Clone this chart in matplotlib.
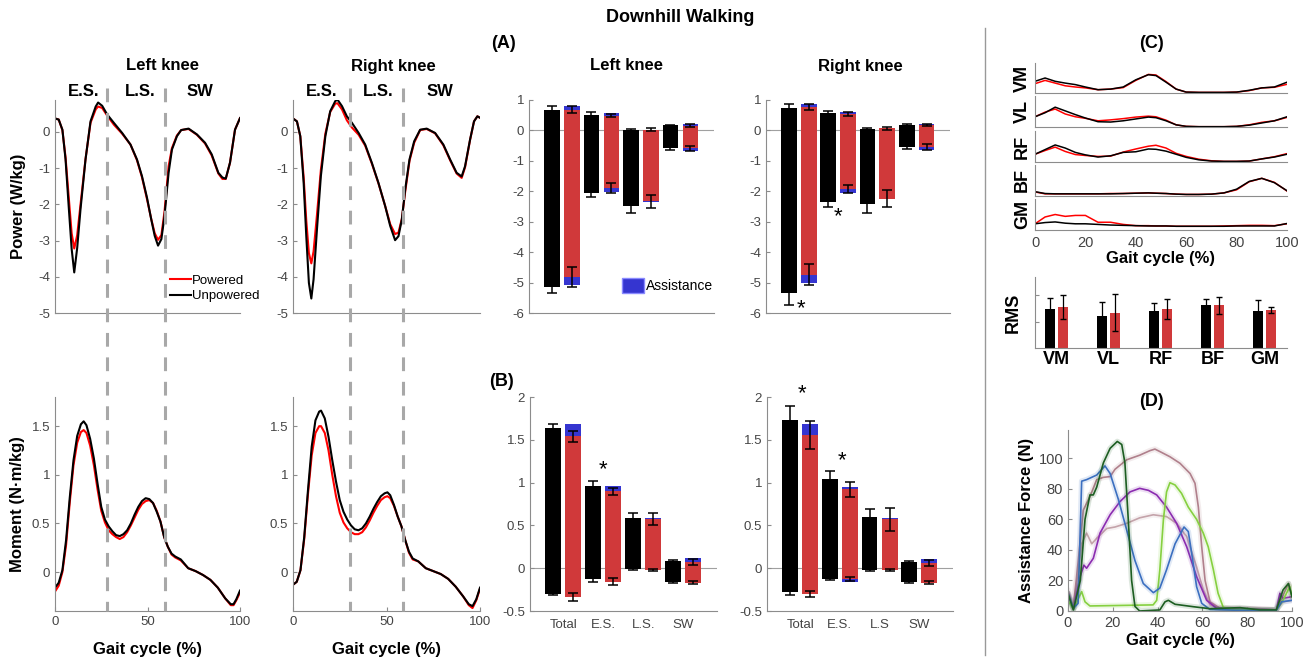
import matplotlib
matplotlib.use('Agg')
import matplotlib.pyplot as plt
import matplotlib.transforms as mtransforms
from matplotlib.patches import Patch
from matplotlib.lines import Line2D
from matplotlib.ticker import FormatStrFormatter
import numpy as np

plt.rcParams['font.family'] = ['Liberation Sans', 'DejaVu Sans']
plt.rcParams['axes.unicode_minus'] = False

W, H = 1310, 660
GRAY = '#8c8c8c'
TXT = '#444444'
RED = '#d0393a'
BLUE = '#3535d0'

# ---------------- knee power (W/kg) ----------------
pL_x = [0, 2, 4, 5.7, 7.5, 9, 10.4, 12, 13.8, 16.5, 19.2, 22, 23.3, 25.5, 28.2, 31.8, 36.3, 40.8, 44.3, 47,
        49.7, 52, 53.9, 55.7, 57.5, 59.2, 61.4, 63.2, 65.9, 68.2, 72.2, 76.7, 81.1, 84.7, 88.3, 90.5, 92.3,
        94.6, 97.3, 100]
pL_unpow = [0.37, 0.34, 0.06, -0.76, -2.13, -3.23, -3.88, -3.2, -2.13, -0.76, 0.29, 0.7, 0.81, 0.72, 0.48,
            0.25, -0.03, -0.35, -0.76, -1.22, -1.81, -2.41, -2.87, -3.14, -2.96, -2.32, -1.13, -0.49, -0.12,
            0.05, 0.09, -0.07, -0.3, -0.62, -1.13, -1.26, -1.29, -0.85, 0.06, 0.38]
pL_pow = [0.37, 0.34, 0.05, -0.7, -1.85, -2.8, -3.22, -2.85, -2.0, -0.75, 0.25, 0.62, 0.7, 0.66, 0.45, 0.2,
          -0.05, -0.35, -0.78, -1.25, -1.85, -2.4, -2.8, -2.98, -2.85, -2.2, -0.95, -0.45, -0.1, 0.05, 0.08,
          -0.08, -0.32, -0.65, -1.15, -1.3, -1.3, -0.85, 0.06, 0.38]

pR_x = [0, 2.1, 3.9, 5.7, 7.1, 8.5, 9.8, 11, 12.8, 14.9, 17.3, 19.9, 22.6, 23.8, 26.2, 28.8, 31.5, 35.1, 38.6,
        42.2, 45.7, 49.3, 52, 54.6, 56.4, 58.2, 60, 62.3, 64.8, 68, 71.5, 76, 80.4, 84, 87.5, 90.2, 92, 94.7,
        96.8, 98.6, 100]
pR_unpow = [0.37, 0.29, -0.12, -1.41, -2.88, -4.17, -4.6, -4.07, -2.7, -1.22, -0.12, 0.57, 0.85, 0.89, 0.71,
            0.43, 0.25, -0.03, -0.35, -0.86, -1.41, -2.05, -2.6, -2.99, -2.88, -2.42, -1.59, -0.76, -0.26,
            0.06, 0.09, -0.03, -0.35, -0.76, -1.13, -1.23, -0.95, -0.21, 0.29, 0.43, 0.39]
pR_pow = [0.37, 0.29, -0.12, -1.25, -2.45, -3.35, -3.63, -3.3, -2.3, -1.05, -0.05, 0.55, 0.78, 0.79, 0.62,
          0.32, 0.12, -0.08, -0.38, -0.88, -1.42, -2.05, -2.55, -2.82, -2.78, -2.4, -1.65, -0.8, -0.3, 0.05,
          0.08, -0.04, -0.37, -0.78, -1.15, -1.27, -0.98, -0.22, 0.29, 0.43, 0.39]

# ---------------- knee moment (N.m/kg) ----------------
mL_x = [0, 2, 4, 6, 8, 10, 12, 14, 15.5, 17, 19, 21, 23, 25, 27, 29, 31, 33, 35, 37, 39, 41, 43, 45, 47, 49,
        51, 53, 55, 57, 59, 61, 63, 65, 68, 72, 76, 80, 84, 88, 92, 95, 96.5, 98, 100]
mL_unpow = [-0.16, -0.11, 0.02, 0.33, 0.77, 1.15, 1.4, 1.52, 1.55, 1.51, 1.37, 1.17, 0.91, 0.67, 0.54, 0.47,
            0.42, 0.38, 0.37, 0.39, 0.43, 0.5, 0.59, 0.67, 0.73, 0.76, 0.75, 0.71, 0.62, 0.52, 0.36, 0.26,
            0.19, 0.16, 0.13, 0.04, 0.01, -0.03, -0.08, -0.16, -0.27, -0.33, -0.33, -0.28, -0.19]
mL_pow = [-0.2, -0.14, 0.0, 0.28, 0.72, 1.1, 1.33, 1.44, 1.46, 1.43, 1.3, 1.1, 0.85, 0.63, 0.51, 0.43, 0.39,
          0.36, 0.34, 0.36, 0.41, 0.48, 0.56, 0.64, 0.7, 0.73, 0.74, 0.71, 0.63, 0.52, 0.36, 0.26, 0.18,
          0.15, 0.12, 0.04, 0.01, -0.03, -0.08, -0.16, -0.27, -0.34, -0.34, -0.29, -0.21]

mR_x = [0, 2, 4, 6, 8, 10, 12, 14, 15, 17, 19, 21, 23, 25, 27, 29, 31, 33, 35, 37, 39, 41, 43, 45, 47, 49,
        50.5, 52, 54, 56, 58, 60, 62, 64, 67, 71, 75, 79, 83, 87, 91, 94, 96, 98, 100]
mR_unpow = [-0.13, -0.1, 0.02, 0.36, 0.84, 1.29, 1.56, 1.65, 1.66, 1.58, 1.39, 1.15, 0.93, 0.74, 0.62, 0.54,
            0.48, 0.44, 0.43, 0.45, 0.5, 0.57, 0.65, 0.72, 0.78, 0.81, 0.82, 0.79, 0.69, 0.57, 0.47, 0.33,
            0.21, 0.14, 0.11, 0.04, 0.01, -0.02, -0.07, -0.15, -0.25, -0.33, -0.35, -0.28, -0.16]
mR_pow = [-0.13, -0.1, 0.02, 0.34, 0.8, 1.2, 1.43, 1.5, 1.5, 1.43, 1.25, 1.0, 0.78, 0.61, 0.51, 0.45, 0.41,
          0.39, 0.39, 0.41, 0.46, 0.53, 0.61, 0.68, 0.74, 0.77, 0.78, 0.76, 0.68, 0.57, 0.47, 0.33, 0.2,
          0.13, 0.11, 0.04, 0.01, -0.02, -0.07, -0.15, -0.25, -0.34, -0.37, -0.29, -0.17]

# ---------------- work bars (A) power, (B) moment ----------------
phases = ['Total', 'E.S.', 'L.S.', 'SW']
phases_R = ['Total', 'E.S.', 'L.S', 'SW']

A_L = dict(bpos=[0.68, 0.52, 0.02, 0.17], bpos_e=[0.12, 0.07, 0.03, 0.02],
           bneg=[-5.14, -2.05, -2.47, -0.58], bneg_e=[0.21, 0.15, 0.24, 0.06],
           rpos=[0.68, 0.49, 0.03, 0.16], apos=[0.11, 0.07, 0.0, 0.04], rpos_e=[0.11, 0.04, 0.05, 0.035],
           rneg=[-4.81, -1.9, -2.33, -0.59], aneg=[-0.27, -0.11, -0.02, -0.1], rneg_e=[0.33, 0.16, 0.22, 0.09])
A_R = dict(bpos=[0.74, 0.58, 0.05, 0.18], bpos_e=[0.12, 0.06, 0.02, 0.02],
           bneg=[-5.35, -2.36, -2.42, -0.53], bneg_e=[0.38, 0.14, 0.3, 0.07],
           rpos=[0.76, 0.54, 0.07, 0.17], apos=[0.1, 0.05, 0.0, 0.05], rpos_e=[0.1, 0.06, 0.04, 0.04],
           rneg=[-4.74, -1.93, -2.24, -0.55], aneg=[-0.26, -0.11, -0.02, -0.09], rneg_e=[0.34, 0.13, 0.27, 0.09])
B_L = dict(bpos=[1.64, 0.96, 0.59, 0.08], bpos_e=[0.04, 0.06, 0.05, 0.02],
           bneg=[-0.30, -0.13, -0.01, -0.16], bneg_e=[0.01, 0.03, 0.01, 0.01],
           rpos=[1.54, 0.90, 0.57, 0.07], apos=[0.14, 0.06, 0.02, 0.045], rpos_e=[0.06, 0.04, 0.07, 0.035],
           rneg=[-0.34, -0.16, -0.02, -0.17], aneg=[0, 0, 0, 0], rneg_e=[0.045, 0.04, 0.01, 0.02])
B_R = dict(bpos=[1.73, 1.04, 0.60, 0.07], bpos_e=[0.17, 0.1, 0.09, 0.015],
           bneg=[-0.28, -0.125, -0.02, -0.16], bneg_e=[0.03, 0.01, 0.01, 0.01],
           rpos=[1.56, 0.92, 0.57, 0.065], apos=[0.13, 0.03, 0.02, 0.045], rpos_e=[0.165, 0.085, 0.135, 0.035],
           rneg=[-0.30, -0.13, -0.02, -0.17], aneg=[0, -0.03, 0, 0], rneg_e=[0.035, 0.025, 0.01, 0.015])

# significance marks: (group, y)
A_R_stars = [(1.05, -5.85), (2, -2.85)]
B_L_stars = [(2, 1.15)]
B_R_stars = [(1.05, 2.04), (2.05, 1.26)]

# ---------------- EMG envelopes (C), normalised ----------------
emg_x = [0, 4, 8, 12, 16, 20, 25, 30, 35, 40, 45, 48, 52, 56, 60, 65, 70, 75, 80, 85, 90, 95, 100]
muscles = ['VM', 'VL', 'RF', 'BF', 'GM']
emg_unpow = {
    'VM': [0.39, 0.5, 0.39, 0.33, 0.28, 0.2, 0.11, 0.13, 0.2, 0.44, 0.61, 0.58, 0.36, 0.13, 0.03, 0.02, 0.02,
           0.02, 0.03, 0.09, 0.17, 0.2, 0.36],
    'VL': [0.33, 0.46, 0.64, 0.52, 0.4, 0.29, 0.17, 0.16, 0.2, 0.26, 0.32, 0.3, 0.2, 0.07, 0.02, 0.01, 0.01,
           0.01, 0.02, 0.06, 0.13, 0.2, 0.33],
    'RF': [0.25, 0.4, 0.55, 0.45, 0.31, 0.23, 0.16, 0.2, 0.31, 0.33, 0.42, 0.41, 0.35, 0.25, 0.15, 0.07, 0.03,
           0.02, 0.02, 0.03, 0.1, 0.16, 0.25],
    'BF': [0.14, 0.08, 0.07, 0.07, 0.07, 0.07, 0.07, 0.07, 0.08, 0.09, 0.1, 0.09, 0.08, 0.06, 0.05, 0.05, 0.06,
           0.1, 0.22, 0.47, 0.57, 0.43, 0.17],
    'GM': [0.2, 0.24, 0.26, 0.22, 0.2, 0.2, 0.18, 0.16, 0.15, 0.14, 0.13, 0.13, 0.13, 0.12, 0.12, 0.12, 0.12,
           0.12, 0.13, 0.13, 0.13, 0.13, 0.21],
}
emg_pow = {
    'VM': [0.31, 0.42, 0.33, 0.24, 0.2, 0.17, 0.11, 0.13, 0.18, 0.42, 0.62, 0.6, 0.38, 0.13, 0.03, 0.02, 0.02,
           0.02, 0.03, 0.08, 0.17, 0.19, 0.29],
    'VL': [0.33, 0.48, 0.58, 0.42, 0.33, 0.28, 0.2, 0.23, 0.27, 0.32, 0.35, 0.33, 0.22, 0.07, 0.02, 0.01, 0.01,
           0.01, 0.02, 0.07, 0.15, 0.2, 0.31],
    'RF': [0.25, 0.37, 0.48, 0.34, 0.24, 0.21, 0.18, 0.19, 0.32, 0.42, 0.51, 0.54, 0.45, 0.28, 0.18, 0.09, 0.04,
           0.02, 0.02, 0.03, 0.1, 0.17, 0.27],
    'BF': [0.13, 0.07, 0.07, 0.07, 0.07, 0.07, 0.07, 0.08, 0.08, 0.09, 0.1, 0.09, 0.08, 0.06, 0.05, 0.05, 0.06,
           0.1, 0.2, 0.46, 0.57, 0.44, 0.16],
    'GM': [0.2, 0.42, 0.5, 0.44, 0.47, 0.47, 0.25, 0.25, 0.18, 0.14, 0.14, 0.13, 0.13, 0.12, 0.12, 0.12, 0.12,
           0.13, 0.14, 0.15, 0.15, 0.14, 0.2],
}
rms_unpow = [1.49, 1.22, 1.41, 1.64, 1.40]
rms_unpow_e = [0.43, 0.52, 0.29, 0.23, 0.43]
rms_pow = [1.56, 1.35, 1.47, 1.62, 1.45]
rms_pow_e = [0.47, 0.72, 0.38, 0.31, 0.10]

# ---------------- assistance force (D), one curve per subject ----------------
f1_x = [0, 2.4, 4.5, 6.1, 8.3, 12.8, 16.5, 18.8, 22.5, 26.2, 29.9, 33.6, 38.1, 41, 44, 47.8, 51.8, 53.7,
        55.2, 57.4, 59.7, 63.4, 75, 93, 95.4, 100]
f1_y = [11.6, 1.7, 5, 85, 86, 89, 95, 90, 73, 53, 33, 18, 12, 15, 27, 44, 55, 52, 38, 16, 5, 1, 0.5, 0.5, 6, 7]
f2_x = [0, 2.4, 5.5, 7.6, 9.8, 11.3, 12.8, 15.8, 18.8, 22, 24, 25.4, 26.9, 28.4, 29.9, 32, 41, 43.3, 44.8,
        47.8, 56, 63.4, 76.8, 85.7, 93, 96, 98.4, 100]
f2_y = [11.6, 0.7, 20, 60, 76, 76, 81, 97, 106.5, 111, 109, 97, 60, 20, 3, 0, 0.7, 6, 7, 4.4, 2.8, 1.5, 2.2,
        0.7, 0.7, 13.8, 18, 9.4]
f3_x = [0, 2.4, 6.1, 7.6, 9.8, 26, 38, 39.6, 41, 42.6, 44, 45.5, 47.8, 50.7, 53.7, 57.4, 60.4, 62.6, 64.9,
        67, 69.3, 73.8, 93, 96, 99, 100]
f3_y = [7, 1, 12.7, 6, 3.3, 3.7, 4, 7, 27, 60, 78, 84, 82.5, 77, 68, 60, 51, 42, 27, 11.6, 2.4, 1, 0.7, 7,
        16, 9.4]
f4_x = [0, 2.4, 5.4, 7.1, 8.3, 11.3, 14.3, 18.8, 23.2, 27.7, 32, 35.9, 39.6, 44, 48.5, 53, 57.4, 61.9, 66.4,
        93, 94.6, 96, 100]
f4_y = [10.5, 1.7, 22.5, 30, 28, 34.5, 51, 63, 71.6, 78, 80.3, 79, 76, 68, 57.4, 42, 22.5, 7, 1.7, 0.7,
        11.6, 8.3, 9.4]
f5_x = [0, 2.4, 4.6, 6.8, 9.8, 12.8, 15.8, 18.8, 21, 26.2, 32, 36.6, 38.8, 41, 45.5, 50, 54.5, 56.7, 58.2,
        59.7, 61.2, 63.4, 67.9, 85.7, 93, 96.4, 98.5, 100]
f5_y = [13.8, 2.8, 33, 66, 75, 86, 87.5, 88, 92.8, 99, 102, 105, 106, 104.4, 101, 96.7, 90, 83.6, 68, 42, 20,
        6, 1.7, 1.5, 0.7, 11.6, 18, 9.4]
f6_x = [0, 2.4, 6.1, 8.3, 10.6, 12.8, 17.3, 21, 26.2, 32, 38.1, 44, 48.5, 53, 57.4, 60.4, 63.4, 69.3, 93,
        96, 100]
f6_y = [11.6, 1.7, 44, 51, 44, 47.6, 54, 55, 57.4, 61, 63, 61.8, 57.4, 48.7, 29, 13.8, 4, 1.5, 1, 6, 7]
force_curves = [(f6_x, f6_y, '#c4a3aa'), (f5_x, f5_y, '#b0808c'), (f4_x, f4_y, '#8b2cb0'),
                (f3_x, f3_y, '#86d040'), (f1_x, f1_y, '#3b6fc0'), (f2_x, f2_y, '#1d5e22')]

# ====================================================================
fig = plt.figure(figsize=(W / 100, H / 100), dpi=100)


def add_ax(l, t, r, b):
    return fig.add_axes([l / W, 1 - b / H, (r - l) / W, (b - t) / H])


def style(ax, size=9.5):
    for s in ['top', 'right']:
        ax.spines[s].set_visible(False)
    for s in ['left', 'bottom']:
        ax.spines[s].set_color(GRAY)
    ax.tick_params(direction='in', length=3, colors=GRAY, labelcolor=TXT, labelsize=size)


def ftext(x, y, s, **kw):
    fig.text(x / W, 1 - y / H, s, ha='center', va='center', **kw)


def draw_bars(ax, d, stars):
    x = np.arange(1, 5)
    xb, xr = x - 0.253, x + 0.253
    w = 0.4
    ax.axhline(0, color='#a0a0a0', lw=0.8, zorder=0)
    ax.bar(xb, d['bpos'], w, color='k', zorder=2)
    ax.bar(xb, d['bneg'], w, color='k', zorder=2)
    ax.bar(xr, d['rpos'], w, color=RED, zorder=2)
    ax.bar(xr, d['apos'], w, bottom=d['rpos'], color=BLUE, zorder=2)
    ax.bar(xr, d['rneg'], w, color=RED, zorder=2)
    ax.bar(xr, d['aneg'], w, bottom=d['rneg'], color=BLUE, zorder=2)
    kw = dict(fmt='none', ecolor='k', elinewidth=1.1, capsize=3.5, capthick=1.1, zorder=3)
    ax.errorbar(xb, d['bpos'], yerr=d['bpos_e'], **kw)
    ax.errorbar(xb, d['bneg'], yerr=d['bneg_e'], **kw)
    ax.errorbar(xr, d['rpos'], yerr=d['rpos_e'], **kw)
    ax.errorbar(xr, d['rneg'], yerr=d['rneg_e'], **kw)
    for g, y in stars:
        ax.text(g, y, '*', ha='center', va='center', fontsize=16, clip_on=False)
    ax.set_xlim(0.165, 4.85)
    ax.set_xticks(x)
    ax.tick_params(axis='x', length=0)
    ax.yaxis.set_major_formatter(FormatStrFormatter('%g'))


# ---- power / moment curves ----
axPL = add_ax(55, 100, 240, 313)
axPR = add_ax(293, 100, 480, 313)
axML = add_ax(55, 397, 240, 611)
axMR = add_ax(293, 397, 480, 611)
for ax, x, up, pw in [(axPL, pL_x, pL_unpow, pL_pow), (axPR, pR_x, pR_unpow, pR_pow),
                      (axML, mL_x, mL_unpow, mL_pow), (axMR, mR_x, mR_unpow, mR_pow)]:
    style(ax)
    ax.plot(x, pw, color='#ff0000', lw=1.5, label='Powered')
    ax.plot(x, up, color='k', lw=1.5, label='Unpowered')
    ax.set_xlim(0, 100)
for ax in (axPL, axPR):
    ax.set_ylim(-5, 0.88)
    ax.set_yticks(range(-5, 1))
    ax.set_xticks([])
for ax in (axML, axMR):
    ax.set_ylim(-0.4, 1.8)
    ax.set_yticks([0, 0.5, 1, 1.5])
    ax.yaxis.set_major_formatter(FormatStrFormatter('%g'))
    ax.set_xticks([0, 50, 100])
    ax.set_xlabel('Gait cycle (%)', fontsize=12, fontweight='bold', labelpad=10)
axPL.set_ylabel('Power (W/kg)', fontsize=12, fontweight='bold', labelpad=9)
axML.set_ylabel('Moment (N·m/kg)', fontsize=12, fontweight='bold', labelpad=5)
axPL.legend(loc='upper left', bbox_to_anchor=(0.62, 0.18), frameon=False, fontsize=9.5,
            handlelength=1.6, handletextpad=0.1, labelspacing=0.25, borderpad=0, borderaxespad=0)

# phase boundaries spanning power and moment plots
for ax, xs in [(axPL, [28, 59.5]), (axPR, [30.5, 59])]:
    tr = mtransforms.blended_transform_factory(ax.transData, fig.transFigure)
    for xv in xs:
        fig.add_artist(Line2D([xv, xv], [1 - 88 / H, 1 - 611 / H], transform=tr, color='#a8a8a8',
                              lw=2.2, dashes=(4.5, 3.5)))

# ---- bars ----
axAL = add_ax(529, 100, 714, 313)
axAR = add_ax(766, 100, 950, 313)
axBL = add_ax(530, 397, 717, 611)
axBR = add_ax(767, 397, 953, 611)
for ax, d, st in [(axAL, A_L, []), (axAR, A_R, A_R_stars), (axBL, B_L, B_L_stars), (axBR, B_R, B_R_stars)]:
    style(ax)
    draw_bars(ax, d, st)
for ax in (axAL, axAR):
    ax.set_ylim(-6, 1)
    ax.set_yticks(range(-6, 2))
    ax.set_xticklabels([])
for ax, labs in [(axBL, phases), (axBR, phases_R)]:
    ax.set_ylim(-0.5, 2)
    ax.set_yticks([-0.5, 0, 0.5, 1, 1.5, 2])
    ax.set_xticklabels(labs, fontsize=9.5, color=TXT)
    ax.tick_params(axis='x', pad=6)
axAL.legend([Patch(facecolor=BLUE, edgecolor='#8a8aff')], ['Assistance'], loc='upper left',
            bbox_to_anchor=(0.5, 0.165), frameon=False, fontsize=10, handlelength=1.6, handleheight=1.3,
            handletextpad=0.15, borderpad=0, borderaxespad=0)

# ---- EMG ----
rows = [(63, 93), (96, 127), (131, 162), (165, 196), (199, 230)]
for i, (m, (t, b)) in enumerate(zip(muscles, rows)):
    ax = add_ax(1035, t, 1287, b)
    style(ax, size=10.5)
    ax.plot(emg_x, emg_pow[m], color='#ff0000', lw=1.1)
    ax.plot(emg_x, emg_unpow[m], color='k', lw=1.1)
    ax.set_xlim(0, 100)
    ax.set_ylim(0, 1)
    ax.set_yticks([])
    ax.set_ylabel(m, fontsize=13, fontweight='bold', labelpad=3, color='k')
    if i < 4:
        ax.set_xticks([])
    else:
        ax.set_xticks(range(0, 101, 20))
        ax.tick_params(axis='x', length=0, pad=4)
        ax.set_xlabel('Gait cycle (%)', fontsize=12, fontweight='bold', labelpad=1)

axRMS = add_ax(1035, 277, 1287, 348)
style(axRMS)
xm = np.arange(1, 6)
axRMS.bar(xm - 0.125, rms_unpow, 0.19, color='k')
axRMS.bar(xm + 0.125, rms_pow, 0.19, color=RED)
axRMS.errorbar(xm - 0.125, rms_unpow, yerr=rms_unpow_e, fmt='none', ecolor='k', elinewidth=0.9, capsize=2.5)
axRMS.errorbar(xm + 0.125, rms_pow, yerr=rms_pow_e, fmt='none', ecolor='k', elinewidth=0.9, capsize=2.5)
axRMS.set_xlim(0.58, 5.43)
axRMS.set_ylim(0, 2.7)
axRMS.set_yticks([1, 2])
axRMS.set_yticklabels([])
axRMS.set_xticks(xm)
axRMS.set_xticklabels(muscles, fontsize=13, fontweight='bold', color='k')
axRMS.tick_params(axis='x', length=0, pad=2)
axRMS.set_ylabel('RMS', fontsize=13, fontweight='bold', labelpad=6)

# ---- assistance force ----
axD = add_ax(1068, 430, 1292, 611)
style(axD, size=10.5)
for fx, fy, c in force_curves:
    axD.plot(fx, fy, color=c, lw=4, alpha=0.15, solid_capstyle='round')
    axD.plot(fx, fy, color=c, lw=1.2)
axD.set_xlim(0, 100)
axD.set_ylim(0, 118.5)
axD.set_xticks(range(0, 101, 20))
axD.set_yticks(range(0, 101, 20))
axD.set_xlabel('Gait cycle (%)', fontsize=12, fontweight='bold', labelpad=2)
axD.set_ylabel('Assistance Force (N)', fontsize=12, fontweight='bold', labelpad=3)

# ---- texts ----
ftext(680, 17, 'Downhill Walking', fontsize=13, fontweight='bold')
ftext(503, 43, '(A)', fontsize=13, fontweight='bold')
ftext(501, 381, '(B)', fontsize=13, fontweight='bold')
ftext(1152, 44, '(C)', fontsize=13, fontweight='bold')
ftext(1152, 401, '(D)', fontsize=13, fontweight='bold')
for x, s in [(162, 'Left knee'), (393, 'Right knee'), (627, 'Left knee'), (860, 'Right knee')]:
    ftext(x, 66, s, fontsize=12, fontweight='bold')
for x, s in [(84, 'E.S.'), (140, 'L.S.'), (200, 'SW'), (322, 'E.S.'), (378, 'L.S.'), (440, 'SW')]:
    ftext(x, 92, s, fontsize=12, fontweight='bold')
fig.add_artist(Line2D([985 / W, 985 / W], [1 - 28 / H, 1 - 655 / H], color='#999999', lw=1))

fig.savefig('out.png', dpi=100)
